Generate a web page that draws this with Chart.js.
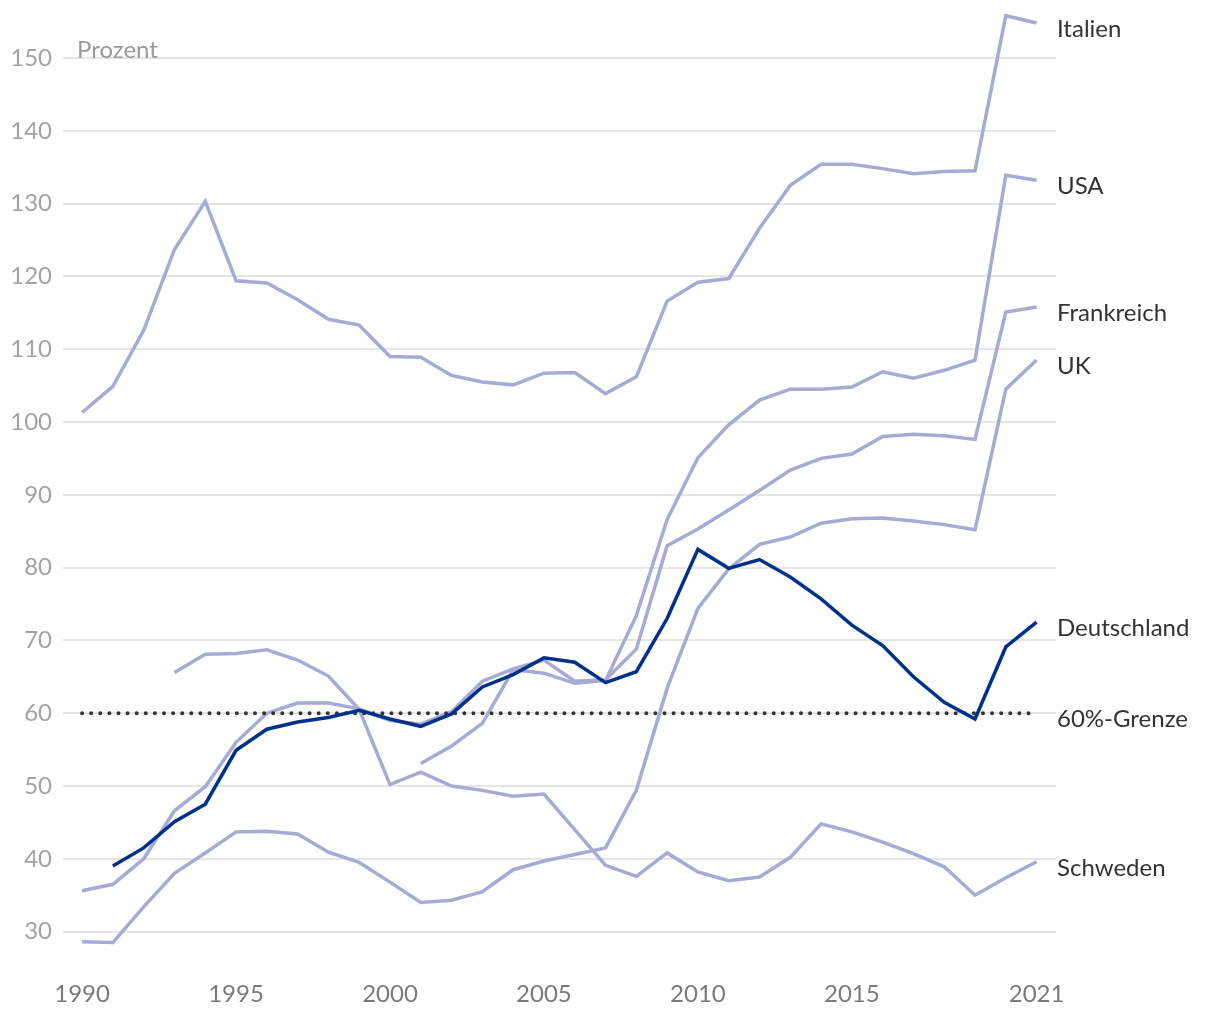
<!DOCTYPE html>
<html><head><meta charset="utf-8">
<script src="https://cdn.jsdelivr.net/npm/chart.js@4"></script>
<style>html,body{margin:0;padding:0;background:#fff}#wrap{width:1220px;height:1020px}</style>
</head><body><div id="wrap"><canvas id="c" width="1220" height="1020"></canvas></div>
<script>
const years = [1990,1991,1992,1993,1994,1995,1996,1997,1998,1999,2000,2001,2002,2003,2004,2005,2006,2007,2008,2009,2010,2011,2012,2013,2014,2015,2016,2017,2018,2019,2020,2021];
const italien = [101.3,104.9,112.6,123.7,130.3,119.4,119.1,116.8,114.1,113.3,109.0,108.9,106.4,105.5,105.1,106.7,106.8,103.9,106.2,116.6,119.2,119.7,126.6,132.5,135.4,135.4,134.8,134.1,134.4,134.5,155.8,154.8];
const usa = [null,null,null,null,null,null,null,null,null,null,null,53.1,55.5,58.6,66.0,65.5,64.1,64.5,73.4,86.6,95.1,99.6,103.0,104.5,104.5,104.8,106.9,106.0,107.1,108.5,133.9,133.2];
const frankreich = [35.6,36.5,40.0,46.6,49.9,56.0,60.0,61.4,61.4,60.6,59.0,58.5,60.2,64.4,66.1,67.3,64.4,64.6,68.8,83.0,85.3,87.9,90.6,93.4,95.0,95.6,98.0,98.3,98.1,97.6,115.1,115.8];
const uk = [28.6,28.5,33.4,38.0,40.8,43.7,43.8,43.4,40.9,39.5,36.8,34.0,34.3,35.5,38.5,39.7,40.6,41.5,49.4,63.4,74.4,79.8,83.2,84.2,86.1,86.7,86.8,86.4,85.9,85.2,104.5,108.5];
const deutschland = [null,39.0,41.5,45.1,47.5,54.9,57.8,58.8,59.4,60.4,59.2,58.2,59.9,63.6,65.3,67.6,67.0,64.2,65.7,73.0,82.5,79.9,81.1,78.7,75.7,72.1,69.3,65.0,61.5,59.2,69.1,72.5];
const schweden = [null,null,null,65.6,68.1,68.2,68.7,67.3,65.1,60.5,50.2,51.9,50.0,49.4,48.6,48.9,44.0,39.1,37.6,40.8,38.2,37.0,37.5,40.2,44.8,43.7,42.3,40.7,38.9,35.0,37.4,39.6];
const grenzeWert = 60;
const grenzeJahre = [1990, 2021];
const xTicks = [1990,1995,2000,2005,2010,2015,2021];
const yTicks = [30,40,50,60,70,80,90,100,110,120,130,140,150];
const unitLabel = 'Prozent';

const LIGHT = '#a6aad4';
const DARK = '#00318a';
const FONT = 'Lato';

function pts(arr){ const out=[]; arr.forEach((v,i)=>{ if(v!==null) out.push({x:years[i], y:v}); }); return out; }

const datasets = [
  {label:'Deutschland', data:pts(deutschland), borderColor:DARK, borderWidth:3.5},
  {label:'60%-Grenze', data:grenzeJahre.map(y=>({x:y,y:grenzeWert})), borderColor:'#333', borderWidth:4, borderDash:[0,9.1], borderCapStyle:'round'},
  {label:'Italien', data:pts(italien), borderColor:LIGHT, borderWidth:3.5},
  {label:'USA', data:pts(usa), borderColor:LIGHT, borderWidth:3.5},
  {label:'Frankreich', data:pts(frankreich), borderColor:LIGHT, borderWidth:3.5},
  {label:'UK', data:pts(uk), borderColor:LIGHT, borderWidth:3.5},
  {label:'Schweden', data:pts(schweden), borderColor:LIGHT, borderWidth:3.5}
];

const endLabels = {
  id:'endLabels',
  afterDatasetsDraw(chart){
    const ctx = chart.ctx;
    ctx.save();
    ctx.font = '24px ' + FONT;
    ctx.textAlign = 'left';
    ctx.textBaseline = 'alphabetic';
    ctx.fillStyle = '#333';
    chart.data.datasets.forEach((ds,i)=>{
      const meta = chart.getDatasetMeta(i);
      const pt = meta.data[meta.data.length-1];
      ctx.fillText(ds.label, chart.chartArea.right + 1, pt.y + 14);
    });
    ctx.fillStyle = '#9a9a9a';
    ctx.fillText(unitLabel, chart.chartArea.left + 14, chart.scales.y.getPixelForValue(150));
    ctx.restore();
  }
};

new Chart(document.getElementById('c'), {
  type:'line',
  data:{datasets},
  plugins:[endLabels],
  options:{
    responsive:false, animation:false,
    layout:{padding:{top:7,right:164,bottom:0,left:0}},
    plugins:{legend:{display:false}, tooltip:{enabled:false}},
    elements:{point:{radius:0}, line:{tension:0, fill:false}},
    scales:{
      x:{type:'linear', min:1989.38, max:2021.63,
         grid:{display:false}, border:{display:false},
         afterBuildTicks:s=>{ s.ticks = xTicks.map(v=>({value:v})); },
         afterFit:s=>{ s.height = 60; s.paddingLeft = 0; s.paddingRight = 0; },
         ticks:{color:'#7a7a7a', font:{family:FONT,size:24}, padding:12, maxRotation:0, autoSkip:false, callback:v=>String(v)}},
      y:{type:'linear', min:26.1, max:157,
         grid:{color:'#e6e6e6', lineWidth:2, drawTicks:false}, border:{display:false},
         afterBuildTicks:s=>{ s.ticks = yTicks.map(v=>({value:v})); },
         afterFit:s=>{ s.width = 63; s.paddingTop = 0; s.paddingBottom = 0; },
         ticks:{color:'#a3a3a3', font:{family:FONT,size:24}, padding:11, callback:v=>String(v)}}
    }
  }
});
</script>
</body></html>
